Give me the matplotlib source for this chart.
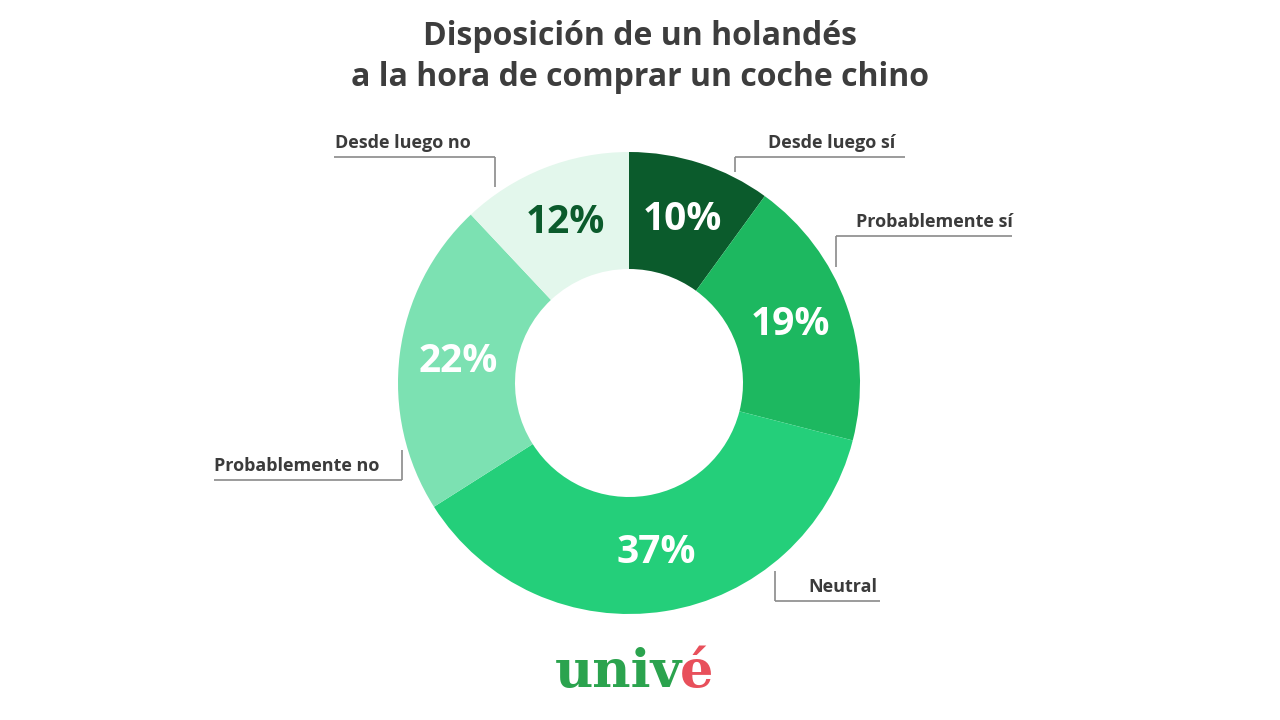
import matplotlib
matplotlib.use("Agg")
import matplotlib.pyplot as plt

# data
categories = ["Desde luego sí", "Probablemente sí", "Neutral", "Probablemente no", "Desde luego no"]
values = [10, 19, 37, 22, 12]
colors = ["#0b5b2c", "#1db860", "#24cf7a", "#7ce1b2", "#e3f7ec"]
pct_colors = ["white", "white", "white", "white", "#0b5b2c"]

title = "Disposición de un holandés\na la hora de comprar un coche chino"

plt.rcParams["font.family"] = ["Open Sans", "DejaVu Sans"]

W, H = 1280, 720
fig = plt.figure(figsize=(12.8, 7.2), dpi=100)
ax = fig.add_axes([0, 0, 1, 1])

cx, cy, r = 629, H - 383, 231
wedges, _, autotexts = ax.pie(
    values, colors=colors, startangle=90, counterclock=False,
    radius=r, center=(cx, cy), autopct=lambda p: f"{round(p)}%",
    pctdistance=0.745, wedgeprops=dict(width=117, linewidth=0),
)
for t, c in zip(autotexts, pct_colors):
    t.set_color(c)
    t.set_fontsize(28)
    t.set_fontweight("bold")

ax.set_xlim(0, W)
ax.set_ylim(0, H)
ax.set_aspect("equal")
ax.axis("off")

# leader labels: (text x, text y, line x0, line x1, elbow x, elbow y end)
label_pos = {
    "Desde luego sí": (768, 143, 735, 905, 735, 172),
    "Probablemente sí": (856, 222, 836, 1012, 836, 267),
    "Neutral": (808, 587, 775, 880, 775, 571),
    "Probablemente no": (214, 466, 214, 402, 402, 450),
    "Desde luego no": (335, 143, 334, 495, 495, 187),
}
line_col = "#8a8a8a"
for name in categories:
    tx, ty, x0, x1, ex, ey = label_pos[name]
    ax.text(tx, H - ty, name, fontsize=13, fontweight="bold", color="#3b3b3b",
            ha="left", va="center")
    ly = ty + 14
    ax.plot([x0, x1], [H - ly, H - ly], color=line_col, lw=1.2, solid_capstyle="butt")
    ax.plot([ex, ex], [H - ly, H - ey], color=line_col, lw=1.2, solid_capstyle="butt")

fig.text(0.5, 1 - 57 / H, title, ha="center", va="center", fontsize=23,
         fontweight="bold", color="#3d3d3d", linespacing=1.35)

# logo
ax.text(682, H - 673, "univ", fontsize=38, fontweight="bold", family="DejaVu Serif",
        color="#2ba34e", ha="right", va="center")
ax.text(680, H - 673, "é", fontsize=38, fontweight="bold", family="DejaVu Serif",
        color="#e8505b", ha="left", va="center")

fig.savefig("out.png", dpi=100, facecolor="white")
